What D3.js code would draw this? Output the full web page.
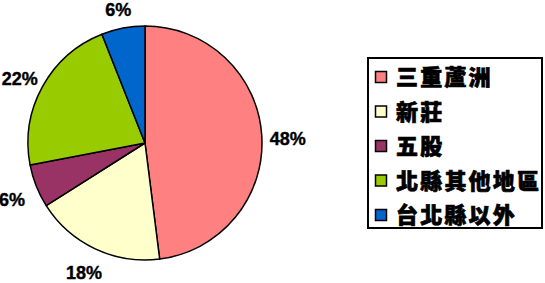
<!DOCTYPE html>
<html>
<head>
<meta charset="utf-8">
<script src="https://cdn.jsdelivr.net/npm/d3@7"></script>
<style>
  body { margin: 0; background: #fff; }
  svg { display: block; }
</style>
</head>
<body>
<div id="chart"></div>
<script>
// slices, clockwise from 12 o'clock
var categories = ['三重蘆洲', '新莊', '五股', '北縣其他地區', '台北縣以外'];
var values = [48, 18, 6, 22, 6];
var colors = ['#FF8080', '#FFFFCC', '#993366', '#99CC00', '#0066CC'];

var width = 545, height = 283;
var cx = 145, cy = 143, radius = 117;

var svg = d3.select('#chart').append('svg')
    .attr('width', width)
    .attr('height', height);

var pie = d3.pie().sort(null).value(function(d) { return d; });
var arcs = pie(values);
var total = d3.sum(values);

var arc = d3.arc().innerRadius(0).outerRadius(radius);
var labelArc = d3.arc().innerRadius(143).outerRadius(143);

var g = svg.append('g').attr('transform', 'translate(' + cx + ',' + cy + ')');

g.selectAll('path')
    .data(arcs)
    .enter()
    .append('path')
    .attr('d', arc)
    .attr('fill', function(d, i) { return colors[i]; })
    .attr('stroke', '#000')
    .attr('stroke-width', 1.5)
    .attr('stroke-linejoin', 'round');

// keep the labels inside the picture
g.selectAll('text')
    .data(arcs)
    .enter()
    .append('text')
    .attr('transform', function(d) {
        var c = labelArc.centroid(d);
        var y = Math.max(10 - cy, Math.min(273 - cy, c[1] + 4));
        return 'translate(' + c[0] + ',' + y + ')';
    })
    .attr('text-anchor', 'middle')
    .attr('dy', '0.36em')
    .attr('stroke', '#000')
    .attr('stroke-width', 0.4)
    .style('font-family', '"Liberation Sans", Arial, sans-serif')
    .style('font-weight', 'bold')
    .style('font-size', '18px')
    .text(function(d) { return Math.round(d.value / total * 100) + '%'; });

// legend
var legend = svg.append('g');
legend.append('rect')
    .attr('x', 368)
    .attr('y', 58)
    .attr('width', 174)
    .attr('height', 170)
    .attr('fill', '#fff')
    .attr('stroke', '#000')
    .attr('stroke-width', 2);

var rowY = d3.scalePoint()
    .domain(categories)
    .range([77, 215]);

var rows = legend.selectAll('g.row')
    .data(categories)
    .enter()
    .append('g')
    .attr('class', 'row')
    .attr('transform', function(d) { return 'translate(0,' + rowY(d) + ')'; });

rows.append('rect')
    .attr('x', 375.5)
    .attr('y', -5.5)
    .attr('width', 11)
    .attr('height', 11)
    .attr('fill', function(d, i) { return colors[i]; })
    .attr('stroke', '#000')
    .attr('stroke-width', 1.5);

rows.append('text')
    .attr('x', 396)
    .attr('dy', '0.38em')
    .attr('stroke', '#000')
    .attr('stroke-width', 0.7)
    .style('font-family', '"Noto Sans CJK TC", sans-serif')
    .style('font-weight', '900')
    .style('font-size', '22px')
    .style('letter-spacing', '2.2px')
    .text(function(d) { return d; });
</script>
</body>
</html>
